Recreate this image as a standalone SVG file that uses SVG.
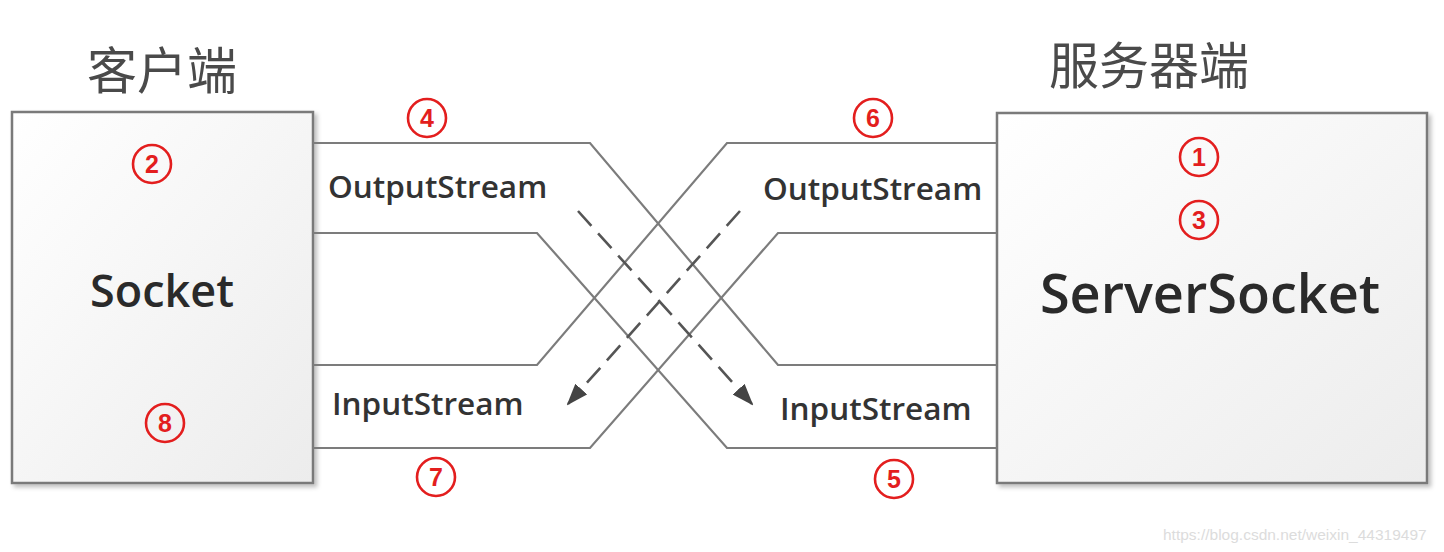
<svg xmlns="http://www.w3.org/2000/svg" width="1444" height="552" viewBox="0 0 1444 552">
<style>
.box{fill:url(#boxg);stroke:#7a7a7a;stroke-width:2.5}
.ln{fill:none;stroke:#7c7c7c;stroke-width:2.2;stroke-linejoin:miter}
.dash{fill:none;stroke:#555;stroke-width:2.6;stroke-dasharray:20 10}
.cjk{font-family:"Noto Sans CJK SC","Noto Sans",sans-serif;font-size:50px;fill:#4a4a4a;text-anchor:middle}
.big{font-family:"Open Sans","Noto Sans",sans-serif;font-weight:600;fill:#2a2a2a;text-anchor:middle}
.lbl{font-family:"Open Sans","Noto Sans",sans-serif;font-weight:600;font-size:31.5px;fill:#333}
.num circle{fill:none;stroke:#e31e1e;stroke-width:2.6}
.num text{font-family:"Liberation Sans",Arial,sans-serif;font-weight:700;font-size:25px;fill:#e31e1e;text-anchor:middle}
.wm{font-family:"Liberation Sans",Arial,sans-serif;font-size:15.5px;fill:#dcdcdc}
</style>
<defs>
<linearGradient id="boxg" x1="0" y1="0" x2="1" y2="1">
<stop offset="0" stop-color="#ffffff"/>
<stop offset="1" stop-color="#ececec"/>
</linearGradient>
<filter id="sh" x="-5%" y="-5%" width="115%" height="115%">
<feDropShadow dx="3" dy="3" stdDeviation="2" flood-color="#000" flood-opacity="0.25"/>
</filter>
<marker id="ah" viewBox="0 0 22 16" refX="20" refY="8" markerWidth="22" markerHeight="16" markerUnits="userSpaceOnUse" orient="auto">
<path d="M0,0 L22,8 L0,16 Z" fill="#444"/>
</marker>
</defs>
<rect width="1444" height="552" fill="#fff"/>

<g id="client">
<text class="cjk" x="162" y="89">客户端</text>
<rect class="box" x="12" y="112" width="301" height="371" filter="url(#sh)"/>
<text class="big" x="162" y="307" font-size="45">Socket</text>
</g>

<g id="server">
<text class="cjk" x="1149" y="84">服务器端</text>
<rect class="box" x="997" y="113" width="430" height="370" filter="url(#sh)"/>
<text class="big" x="1210" y="313" font-size="54" fill="#3a3a3a">ServerSocket</text>
</g>

<g id="connectors">
<path class="ln" d="M313,143 H590 L778,365 H997"/>
<path class="ln" d="M313,233 H537 L727,448 H997"/>
<path class="ln" d="M997,143 H727 L537,365 H313"/>
<path class="ln" d="M997,233 H778 L590,448 H313"/>
<path class="dash" d="M578,211 L752,404" marker-end="url(#ah)"/>
<path class="dash" d="M740,211 L568,404" marker-end="url(#ah)"/>
</g>

<g id="labels">
<text class="lbl" x="328" y="198">OutputStream</text>
<text class="lbl" x="763" y="200">OutputStream</text>
<text class="lbl" x="332" y="415">InputStream</text>
<text class="lbl" x="780" y="420">InputStream</text>
</g>

<g id="steps" class="num">
<g id="s1"><circle cx="1199" cy="157" r="19"/><text x="1199" y="166">1</text></g>
<g id="s2"><circle cx="152" cy="164" r="19"/><text x="152" y="173">2</text></g>
<g id="s3"><circle cx="1199" cy="220" r="19"/><text x="1199" y="229">3</text></g>
<g id="s4"><circle cx="427" cy="118" r="19"/><text x="427" y="127">4</text></g>
<g id="s5"><circle cx="894" cy="479" r="19"/><text x="894" y="488">5</text></g>
<g id="s6"><circle cx="873" cy="118" r="19"/><text x="873" y="127">6</text></g>
<g id="s7"><circle cx="436" cy="477" r="19"/><text x="436" y="486">7</text></g>
<g id="s8"><circle cx="165" cy="423" r="19"/><text x="165" y="432">8</text></g>
</g>

<text class="wm" x="1163" y="540">https://blog.csdn.net/weixin_44319497</text>
</svg>
